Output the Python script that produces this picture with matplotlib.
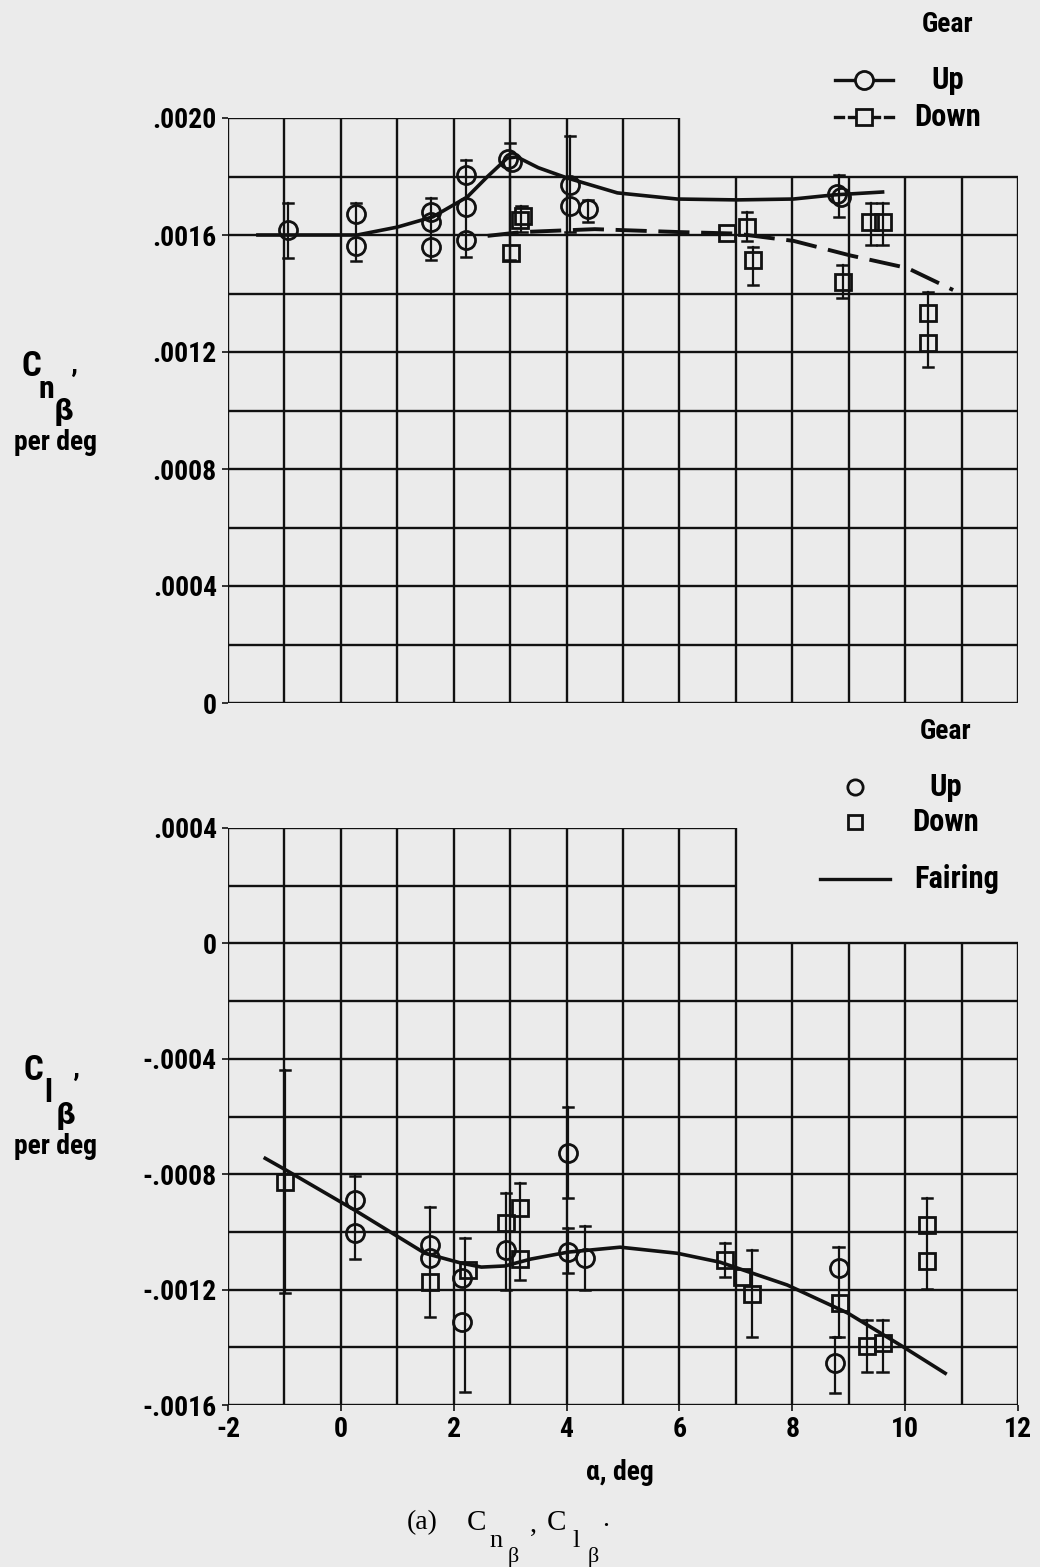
"""Derivadas laterales Cn_beta y Cl_beta frente a alfa, tren arriba / abajo."""
import matplotlib
matplotlib.use("Agg")
import matplotlib.pyplot as plt
from matplotlib import font_manager
import numpy as np

# --- Datos (alfa en grados) ---
# Panel superior: Cn_beta, por grado
cn_up_alpha = [-0.94, 0.27, 0.27, 1.6, 1.6, 1.6, 2.22, 2.22, 2.22, 2.97, 3.03, 4.06, 4.06, 4.38, 8.8, 8.86]
cn_up_value = [.001617, .001672, .001562, .001679, .001644, .00156, .001805, .001696, .001583,
               .00186, .00185, .00177, .0017, .00169, .00174, .00173]
cn_down_alpha = [3.18, 3.22, 3.02, 6.85, 7.2, 7.31, 8.89, 9.38, 9.61, 10.41, 10.41]
cn_down_value = [.00165, .001665, .001538, .001607, .001627, .001515, .00144, .001645, .001645,
                 .001333, .001231]
# barras de dispersión (alfa, extremo inferior, extremo superior)
cn_bar_alpha = [-0.94, 0.27, 1.6, 2.22, 3.0, 3.2, 4.06, 4.38, 7.2, 7.31, 8.83, 8.89, 9.4, 9.6, 10.41]
cn_bar_lo = [.00152, .00151, .001515, .001525, .001515, .00161, .00161, .001645, .00158, .00143,
             .001662, .001385, .001566, .001566, .001149]
cn_bar_hi = [.00171, .00171, .001726, .001856, .001915, .0017, .00194, .00172, .00168, .00156,
             .001805, .001497, .00171, .00171, .001405]
# curvas de ajuste
cn_fair_up_alpha = [-1.47, -0.5, 0.29, 1.0, 1.63, 2.24, 2.6, 2.95, 3.12, 3.5, 4.01, 4.9, 5.96,
                    7.02, 8.02, 8.73, 9.6]
cn_fair_up_value = [.0016, .0016, .0016, .001627, .001662, .00173, .0018, .001863, .001867, .00183,
                    .001795, .001744, .001723, .00172, .001723, .001737, .001747]
cn_fair_down_alpha = [2.6, 3.2, 4.5, 6.0, 7.0, 7.6, 8.02, 9.03, 10.04, 10.85]
cn_fair_down_value = [.001597, .00161, .00162, .00161, .001605, .00159, .00158, .00153, .001487,
                      .001412]

# Panel inferior: Cl_beta, por grado
cl_up_alpha = [0.25, 0.25, 1.58, 1.58, 2.15, 2.15, 2.93, 4.03, 4.03, 4.33, 8.82, 8.76]
cl_up_value = [-.00089, -.001004, -.001046, -.00109, -.00116, -.001313, -.001063, -.000727,
               -.00107, -.00109, -.001126, -.001455]
cl_down_alpha = [-0.99, 1.58, 2.25, 2.93, 3.18, 3.18, 6.81, 7.11, 7.29, 8.85, 9.33, 9.6, 10.39, 10.39]
cl_down_value = [-.000828, -.001174, -.001133, -.00097, -.000918, -.001094, -.001098, -.001157,
                 -.001216, -.001247, -.001396, -.001385, -.000977, -.001101]
cl_bar_alpha = [-0.99, 0.25, 1.58, 2.2, 2.93, 3.18, 4.03, 4.03, 4.33, 6.81, 7.29, 8.82, 8.76, 9.33,
                9.6, 10.39]
cl_bar_lo = [-.001212, -.001094, -.001295, -.001555, -.001202, -.001167, -.000883, -.001143,
             -.001202, -.001157, -.001364, -.001364, -.001558, -.001486, -.001486, -.001198]
cl_bar_hi = [-.00044, -.000807, -.000914, -.001022, -.000866, -.000831, -.000568, -.000987,
             -.000979, -.001039, -.001063, -.001053, -.001364, -.001306, -.001306, -.000883]
cl_fair_alpha = [-1.34, -0.97, 0.25, 1.49, 2.13, 2.49, 2.91, 3.37, 4.03, 4.95, 5.96, 6.72, 7.91,
                 8.98, 9.97, 10.71]
cl_fair_value = [-.000745, -.000786, -.000925, -.001074, -.001108, -.001122, -.001118, -.001094,
                 -.00107, -.001053, -.001074, -.001105, -.001184, -.001281, -.001399, -.00149]

cn_ticks = [0, .0004, .0008, .0012, .0016, .0020]
cn_ticklabels = ["0", ".0004", ".0008", ".0012", ".0016", ".0020"]
cl_ticks = [-.0016, -.0012, -.0008, -.0004, 0, .0004]
cl_ticklabels = ["-.0016", "-.0012", "-.0008", "-.0004", "0", ".0004"]
alpha_ticks = [-2, 0, 2, 4, 6, 8, 10, 12]

# --- Estilo general ---
PAPER = "#ebebeb"
INK = "#111111"

# fuente estrecha si está instalada; si no, DejaVu Sans algo más pequeña
installed = {f.name for f in font_manager.fontManager.ttflist}
narrow = next((n for n in ("Liberation Sans Narrow", "Roboto Condensed", "Open Sans Condensed")
               if n in installed), None)
if narrow:
    plt.rcParams["font.family"] = [narrow, "DejaVu Sans"]
    FS = 20
else:
    plt.rcParams["font.family"] = ["DejaVu Sans"]
    FS = 15.5
plt.rcParams["font.weight"] = "bold"
SERIF = ["Liberation Serif", "DejaVu Serif"]

fig = plt.figure(figsize=(10.4, 15.67), dpi=100, facecolor=PAPER)

ax_cn = fig.add_axes([228 / 1040, 1 - 703 / 1567, 790 / 1040, 585 / 1567])
ax_cl = fig.add_axes([228 / 1040, 1 - 1405 / 1567, 790 / 1040, 577 / 1567])


def px(x, y):
    """Pixel (desde arriba a la izquierda) a fracción de figura."""
    return x / 1040, 1 - y / 1567


def draw_grid(ax, ymin, ymax, step, notch_x, notch_y, lw=1.7):
    """Cuadrícula con una esquina superior derecha recortada (hueco para la leyenda)."""
    xs = np.arange(-2, 13)
    ys = np.round(np.arange(ymin, ymax + step / 2, step), 6)
    for x in xs:
        top = ymax if x <= notch_x else notch_y
        ax.plot([x, x], [ymin, top], color=INK, lw=lw, solid_capstyle="butt", zorder=1)
    for y in ys:
        right = 12 if y <= notch_y + 1e-9 else notch_x
        ax.plot([-2, right], [y, y], color=INK, lw=lw, solid_capstyle="butt", zorder=1)
    ax.set_xlim(-2, 12)
    ax.set_ylim(ymin, ymax)
    ax.set_facecolor("none")
    for s in ax.spines.values():
        s.set_visible(False)


def draw_bars(ax, xs, lo, hi):
    for x, a, b in zip(xs, lo, hi):
        ax.plot([x, x], [a, b], color=INK, lw=1.6, zorder=3)
        for y in (a, b):
            ax.plot([x - 0.09, x + 0.09], [y, y], color=INK, lw=1.8, zorder=3)


def coef_label(x, y, sub, fs):
    """Símbolo C con subíndice doble (n o l, y beta) y la coma alta."""
    fig.text(*px(x, y), "C", fontsize=fs + 5, ha="center", va="center")
    fig.text(*px(x + 15, y + 23), sub, fontsize=fs + 3, ha="center", va="center")
    fig.text(*px(x + 33, y + 46), "β", fontsize=fs, ha="center", va="center",
             family=["DejaVu Sans"])
    fig.text(*px(x + 42, y + 18), "’", fontsize=fs + 2, ha="center", va="center")


mk_circle = dict(marker="o", ms=13, mfc="none", mec=INK, mew=2.0, ls="none", zorder=4)
mk_square = dict(marker="s", ms=12, mfc="none", mec=INK, mew=2.0, ls="none", zorder=4)

# --- Panel superior: Cn_beta ---
draw_grid(ax_cn, 0, .0020, .0002, 6, .0018)
draw_bars(ax_cn, cn_bar_alpha, cn_bar_lo, cn_bar_hi)
ax_cn.plot(cn_fair_up_alpha, cn_fair_up_value, color=INK, lw=2.6, zorder=2)
ax_cn.plot(cn_fair_down_alpha, cn_fair_down_value, color=INK, lw=2.8, dashes=(8, 3), zorder=2)
ax_cn.plot(cn_up_alpha, cn_up_value, **mk_circle)
ax_cn.plot(cn_down_alpha, cn_down_value, **mk_square)
ax_cn.set_xticks([])
ax_cn.set_yticks(cn_ticks)
ax_cn.set_yticklabels(cn_ticklabels)
ax_cn.tick_params(axis="y", length=4, width=1.2, labelsize=FS, pad=4, color=INK)

# --- Panel inferior: Cl_beta ---
draw_grid(ax_cl, -.0016, .0004, .0002, 7, 0)
draw_bars(ax_cl, cl_bar_alpha, cl_bar_lo, cl_bar_hi)
ax_cl.plot(cl_fair_alpha, cl_fair_value, color=INK, lw=2.6, zorder=2)
ax_cl.plot(cl_up_alpha, cl_up_value, **mk_circle)
ax_cl.plot(cl_down_alpha, cl_down_value, **mk_square)
ax_cl.set_xticks(alpha_ticks)
ax_cl.set_xticklabels([str(t) for t in alpha_ticks])
ax_cl.set_yticks(cl_ticks)
ax_cl.set_yticklabels(cl_ticklabels)
ax_cl.tick_params(axis="both", length=4, width=1.2, labelsize=FS, pad=4, color=INK)

# --- Rótulos de ejes ---
coef_label(31, 366, "n", FS)
fig.text(*px(55, 443), "per deg", fontsize=FS, ha="center", va="center")
coef_label(33, 1070, "l", FS)
fig.text(*px(55, 1147), "per deg", fontsize=FS, ha="center", va="center")
fig.text(*px(620, 1473), "α, deg", fontsize=FS, ha="center", va="center")

# --- Pie de figura ---
fig.text(*px(422, 1523), "(a)", fontsize=20, ha="center", va="center", family=SERIF, fontweight="normal")
for x0, sub in ((476, "n"), (556, "l")):
    fig.text(*px(x0, 1523), "C", fontsize=21, ha="center", va="center", family=SERIF, fontweight="normal")
    fig.text(*px(x0 + 20, 1541), sub, fontsize=19, ha="center", va="center", family=SERIF,
             fontweight="normal")
    fig.text(*px(x0 + 37, 1557), "β", fontsize=16, ha="center", va="center", family=SERIF,
             fontweight="normal")
fig.text(*px(533, 1525), ",", fontsize=20, ha="center", va="center", family=SERIF, fontweight="normal")
fig.text(*px(606, 1520), ".", fontsize=20, ha="center", va="center", family=SERIF, fontweight="normal")

# --- Leyenda superior ---
fig.text(*px(948, 24), "Gear", fontsize=FS, ha="center", va="center")
fig.lines.append(plt.Line2D([835 / 1040, 893 / 1040], [1 - 80 / 1567] * 2, transform=fig.transFigure,
                            color=INK, lw=2.4))
fig.lines.append(plt.Line2D([864 / 1040], [1 - 80 / 1567], transform=fig.transFigure,
                            marker="o", ms=13, mfc=PAPER, mec=INK, mew=2.0))
fig.text(*px(948, 80), "Up", fontsize=FS + 2, ha="center", va="center")
for xa, xb in ((835, 843), (849, 857), (871, 879), (885, 893)):
    fig.lines.append(plt.Line2D([xa / 1040, xb / 1040], [1 - 117 / 1567] * 2,
                                transform=fig.transFigure, color=INK, lw=2.4))
fig.lines.append(plt.Line2D([864 / 1040], [1 - 117 / 1567], transform=fig.transFigure,
                            marker="s", ms=12, mfc=PAPER, mec=INK, mew=2.0))
fig.text(*px(948, 117), "Down", fontsize=FS + 2, ha="center", va="center")

# --- Leyenda inferior ---
fig.text(*px(946, 731), "Gear", fontsize=FS, ha="center", va="center")
fig.lines.append(plt.Line2D([855 / 1040], [1 - 787 / 1567], transform=fig.transFigure,
                            marker="o", ms=11, mfc="none", mec=INK, mew=2.0))
fig.text(*px(946, 787), "Up", fontsize=FS + 2, ha="center", va="center")
fig.lines.append(plt.Line2D([855 / 1040], [1 - 822 / 1567], transform=fig.transFigure,
                            marker="s", ms=10, mfc="none", mec=INK, mew=2.0))
fig.text(*px(946, 822), "Down", fontsize=FS + 2, ha="center", va="center")
fig.lines.append(plt.Line2D([820 / 1040, 890 / 1040], [1 - 879 / 1567] * 2, transform=fig.transFigure,
                            color=INK, lw=2.4))
fig.text(*px(957, 879), "Fairing", fontsize=FS + 2, ha="center", va="center")

fig.savefig("out.png", dpi=100, facecolor=PAPER)
